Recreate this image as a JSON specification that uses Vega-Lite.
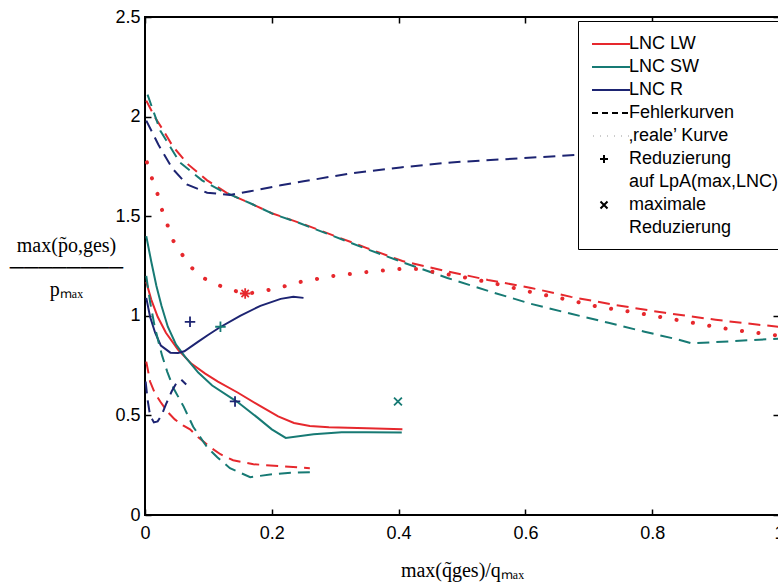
{
  "$schema": "https://vega.github.io/schema/vega-lite/v6.json",
  "width": 634,
  "height": 498,
  "autosize": {"type": "none"},
  "padding": {"left": 145, "top": 17, "right": 0, "bottom": 71},
  "background": "white",
  "config": {
    "view": {"stroke": "black", "strokeWidth": 2},
    "font": "Liberation Sans",
    "axis": {"grid": false, "domain": false, "ticks": true, "tickSize": -6, "tickColor": "black", "tickWidth": 1.5, "labelFontSize": 18, "labelColor": "black", "labelFont": "Liberation Sans", "labelFlush": false, "labelOverlap": false}
  },
  "datasets": {
    "lines": [
      {"curve": "LW", "part": "solid", "x": 0.002, "y": 1.17},
      {"curve": "LW", "part": "solid", "x": 0.01, "y": 1.08},
      {"curve": "LW", "part": "solid", "x": 0.02, "y": 0.995},
      {"curve": "LW", "part": "solid", "x": 0.033, "y": 0.915},
      {"curve": "LW", "part": "solid", "x": 0.052, "y": 0.83},
      {"curve": "LW", "part": "solid", "x": 0.073, "y": 0.76},
      {"curve": "LW", "part": "solid", "x": 0.095, "y": 0.71},
      {"curve": "LW", "part": "solid", "x": 0.115, "y": 0.67},
      {"curve": "LW", "part": "solid", "x": 0.146, "y": 0.615},
      {"curve": "LW", "part": "solid", "x": 0.18, "y": 0.55},
      {"curve": "LW", "part": "solid", "x": 0.21, "y": 0.495},
      {"curve": "LW", "part": "solid", "x": 0.235, "y": 0.462},
      {"curve": "LW", "part": "solid", "x": 0.26, "y": 0.447},
      {"curve": "LW", "part": "solid", "x": 0.29, "y": 0.44},
      {"curve": "LW", "part": "solid", "x": 0.35, "y": 0.435},
      {"curve": "LW", "part": "solid", "x": 0.406, "y": 0.43},

      {"curve": "SW", "part": "solid", "x": 0.002, "y": 1.4},
      {"curve": "SW", "part": "solid", "x": 0.01, "y": 1.27},
      {"curve": "SW", "part": "solid", "x": 0.018, "y": 1.15},
      {"curve": "SW", "part": "solid", "x": 0.026, "y": 1.05},
      {"curve": "SW", "part": "solid", "x": 0.036, "y": 0.945},
      {"curve": "SW", "part": "solid", "x": 0.049, "y": 0.855},
      {"curve": "SW", "part": "solid", "x": 0.063, "y": 0.795},
      {"curve": "SW", "part": "solid", "x": 0.084, "y": 0.715},
      {"curve": "SW", "part": "solid", "x": 0.106, "y": 0.65},
      {"curve": "SW", "part": "solid", "x": 0.146, "y": 0.567},
      {"curve": "SW", "part": "solid", "x": 0.177, "y": 0.49},
      {"curve": "SW", "part": "solid", "x": 0.2, "y": 0.43},
      {"curve": "SW", "part": "solid", "x": 0.222, "y": 0.387},
      {"curve": "SW", "part": "solid", "x": 0.266, "y": 0.405},
      {"curve": "SW", "part": "solid", "x": 0.31, "y": 0.415},
      {"curve": "SW", "part": "solid", "x": 0.35, "y": 0.416},
      {"curve": "SW", "part": "solid", "x": 0.405, "y": 0.414},

      {"curve": "R", "part": "solid", "x": 0.002, "y": 1.09},
      {"curve": "R", "part": "solid", "x": 0.008, "y": 0.995},
      {"curve": "R", "part": "solid", "x": 0.016, "y": 0.915},
      {"curve": "R", "part": "solid", "x": 0.025, "y": 0.85},
      {"curve": "R", "part": "solid", "x": 0.04, "y": 0.815},
      {"curve": "R", "part": "solid", "x": 0.052, "y": 0.813},
      {"curve": "R", "part": "solid", "x": 0.062, "y": 0.822},
      {"curve": "R", "part": "solid", "x": 0.084, "y": 0.87},
      {"curve": "R", "part": "solid", "x": 0.1, "y": 0.905},
      {"curve": "R", "part": "solid", "x": 0.117, "y": 0.94},
      {"curve": "R", "part": "solid", "x": 0.15, "y": 1.0},
      {"curve": "R", "part": "solid", "x": 0.182, "y": 1.05},
      {"curve": "R", "part": "solid", "x": 0.214, "y": 1.085},
      {"curve": "R", "part": "solid", "x": 0.234, "y": 1.095},
      {"curve": "R", "part": "solid", "x": 0.25, "y": 1.09},

      {"curve": "LW", "part": "dashU", "x": 0.002, "y": 2.08},
      {"curve": "LW", "part": "dashU", "x": 0.015, "y": 2.0},
      {"curve": "LW", "part": "dashU", "x": 0.027, "y": 1.94},
      {"curve": "LW", "part": "dashU", "x": 0.044, "y": 1.85},
      {"curve": "LW", "part": "dashU", "x": 0.068, "y": 1.76},
      {"curve": "LW", "part": "dashU", "x": 0.098, "y": 1.68},
      {"curve": "LW", "part": "dashU", "x": 0.13, "y": 1.615},
      {"curve": "LW", "part": "dashU", "x": 0.166, "y": 1.565},
      {"curve": "LW", "part": "dashU", "x": 0.2, "y": 1.515},
      {"curve": "LW", "part": "dashU", "x": 0.25, "y": 1.46},
      {"curve": "LW", "part": "dashU", "x": 0.3, "y": 1.4},
      {"curve": "LW", "part": "dashU", "x": 0.35, "y": 1.34},
      {"curve": "LW", "part": "dashU", "x": 0.406, "y": 1.275},
      {"curve": "LW", "part": "dashU", "x": 0.467, "y": 1.23},
      {"curve": "LW", "part": "dashU", "x": 0.541, "y": 1.18},
      {"curve": "LW", "part": "dashU", "x": 0.609, "y": 1.14},
      {"curve": "LW", "part": "dashU", "x": 0.672, "y": 1.095},
      {"curve": "LW", "part": "dashU", "x": 0.74, "y": 1.055},
      {"curve": "LW", "part": "dashU", "x": 0.82, "y": 1.015},
      {"curve": "LW", "part": "dashU", "x": 0.9, "y": 0.98},
      {"curve": "LW", "part": "dashU", "x": 0.968, "y": 0.955},
      {"curve": "LW", "part": "dashU", "x": 1.0, "y": 0.945},

      {"curve": "SW", "part": "dashU", "x": 0.004, "y": 2.11},
      {"curve": "SW", "part": "dashU", "x": 0.024, "y": 1.93},
      {"curve": "SW", "part": "dashU", "x": 0.055, "y": 1.77},
      {"curve": "SW", "part": "dashU", "x": 0.09, "y": 1.68},
      {"curve": "SW", "part": "dashU", "x": 0.119, "y": 1.63},
      {"curve": "SW", "part": "dashU", "x": 0.166, "y": 1.565},
      {"curve": "SW", "part": "dashU", "x": 0.203, "y": 1.51},
      {"curve": "SW", "part": "dashU", "x": 0.24, "y": 1.47},
      {"curve": "SW", "part": "dashU", "x": 0.297, "y": 1.4},
      {"curve": "SW", "part": "dashU", "x": 0.35, "y": 1.335},
      {"curve": "SW", "part": "dashU", "x": 0.414, "y": 1.26},
      {"curve": "SW", "part": "dashU", "x": 0.477, "y": 1.19},
      {"curve": "SW", "part": "dashU", "x": 0.546, "y": 1.12},
      {"curve": "SW", "part": "dashU", "x": 0.609, "y": 1.06},
      {"curve": "SW", "part": "dashU", "x": 0.672, "y": 1.01},
      {"curve": "SW", "part": "dashU", "x": 0.731, "y": 0.965},
      {"curve": "SW", "part": "dashU", "x": 0.788, "y": 0.92},
      {"curve": "SW", "part": "dashU", "x": 0.842, "y": 0.88},
      {"curve": "SW", "part": "dashU", "x": 0.862, "y": 0.862},
      {"curve": "SW", "part": "dashU", "x": 0.9, "y": 0.868},
      {"curve": "SW", "part": "dashU", "x": 0.957, "y": 0.878},
      {"curve": "SW", "part": "dashU", "x": 1.0, "y": 0.885},

      {"curve": "R", "part": "dashU", "x": 0.002, "y": 1.98},
      {"curve": "R", "part": "dashU", "x": 0.021, "y": 1.86},
      {"curve": "R", "part": "dashU", "x": 0.043, "y": 1.74},
      {"curve": "R", "part": "dashU", "x": 0.066, "y": 1.66},
      {"curve": "R", "part": "dashU", "x": 0.098, "y": 1.618},
      {"curve": "R", "part": "dashU", "x": 0.134, "y": 1.607},
      {"curve": "R", "part": "dashU", "x": 0.166, "y": 1.625},
      {"curve": "R", "part": "dashU", "x": 0.214, "y": 1.655},
      {"curve": "R", "part": "dashU", "x": 0.25, "y": 1.675},
      {"curve": "R", "part": "dashU", "x": 0.324, "y": 1.715},
      {"curve": "R", "part": "dashU", "x": 0.403, "y": 1.745},
      {"curve": "R", "part": "dashU", "x": 0.483, "y": 1.77},
      {"curve": "R", "part": "dashU", "x": 0.562, "y": 1.785},
      {"curve": "R", "part": "dashU", "x": 0.641, "y": 1.8},
      {"curve": "R", "part": "dashU", "x": 0.69, "y": 1.81},

      {"curve": "LW", "part": "dashL", "x": 0.002, "y": 0.77},
      {"curve": "LW", "part": "dashL", "x": 0.008, "y": 0.67},
      {"curve": "LW", "part": "dashL", "x": 0.015, "y": 0.615},
      {"curve": "LW", "part": "dashL", "x": 0.024, "y": 0.57},
      {"curve": "LW", "part": "dashL", "x": 0.035, "y": 0.52},
      {"curve": "LW", "part": "dashL", "x": 0.047, "y": 0.48},
      {"curve": "LW", "part": "dashL", "x": 0.06, "y": 0.45},
      {"curve": "LW", "part": "dashL", "x": 0.071, "y": 0.43},
      {"curve": "LW", "part": "dashL", "x": 0.084, "y": 0.39},
      {"curve": "LW", "part": "dashL", "x": 0.103, "y": 0.34},
      {"curve": "LW", "part": "dashL", "x": 0.119, "y": 0.305},
      {"curve": "LW", "part": "dashL", "x": 0.139, "y": 0.275},
      {"curve": "LW", "part": "dashL", "x": 0.171, "y": 0.255},
      {"curve": "LW", "part": "dashL", "x": 0.214, "y": 0.245},
      {"curve": "LW", "part": "dashL", "x": 0.26, "y": 0.235},

      {"curve": "SW", "part": "dashL", "x": 0.002, "y": 1.2},
      {"curve": "SW", "part": "dashL", "x": 0.008, "y": 1.07},
      {"curve": "SW", "part": "dashL", "x": 0.015, "y": 0.95},
      {"curve": "SW", "part": "dashL", "x": 0.022, "y": 0.86},
      {"curve": "SW", "part": "dashL", "x": 0.027, "y": 0.8},
      {"curve": "SW", "part": "dashL", "x": 0.035, "y": 0.72},
      {"curve": "SW", "part": "dashL", "x": 0.045, "y": 0.636},
      {"curve": "SW", "part": "dashL", "x": 0.061, "y": 0.544},
      {"curve": "SW", "part": "dashL", "x": 0.076, "y": 0.443},
      {"curve": "SW", "part": "dashL", "x": 0.098, "y": 0.34},
      {"curve": "SW", "part": "dashL", "x": 0.114, "y": 0.29},
      {"curve": "SW", "part": "dashL", "x": 0.134, "y": 0.235},
      {"curve": "SW", "part": "dashL", "x": 0.166, "y": 0.19},
      {"curve": "SW", "part": "dashL", "x": 0.202, "y": 0.205},
      {"curve": "SW", "part": "dashL", "x": 0.23, "y": 0.212},
      {"curve": "SW", "part": "dashL", "x": 0.26, "y": 0.215},

      {"curve": "R", "part": "dashL", "x": 0.001, "y": 0.67},
      {"curve": "R", "part": "dashL", "x": 0.004, "y": 0.58},
      {"curve": "R", "part": "dashL", "x": 0.008, "y": 0.5},
      {"curve": "R", "part": "dashL", "x": 0.014, "y": 0.465},
      {"curve": "R", "part": "dashL", "x": 0.02, "y": 0.47},
      {"curve": "R", "part": "dashL", "x": 0.026, "y": 0.5},
      {"curve": "R", "part": "dashL", "x": 0.033, "y": 0.555},
      {"curve": "R", "part": "dashL", "x": 0.042, "y": 0.62},
      {"curve": "R", "part": "dashL", "x": 0.05, "y": 0.665},
      {"curve": "R", "part": "dashL", "x": 0.057, "y": 0.68},
      {"curve": "R", "part": "dashL", "x": 0.065, "y": 0.655},

      {"curve": "LW", "part": "dot", "x": 0.003, "y": 1.77},
      {"curve": "LW", "part": "dot", "x": 0.011, "y": 1.69},
      {"curve": "LW", "part": "dot", "x": 0.019, "y": 1.62},
      {"curve": "LW", "part": "dot", "x": 0.027, "y": 1.53},
      {"curve": "LW", "part": "dot", "x": 0.035, "y": 1.46},
      {"curve": "LW", "part": "dot", "x": 0.044, "y": 1.38},
      {"curve": "LW", "part": "dot", "x": 0.058, "y": 1.31},
      {"curve": "LW", "part": "dot", "x": 0.074, "y": 1.24},
      {"curve": "LW", "part": "dot", "x": 0.092, "y": 1.19},
      {"curve": "LW", "part": "dot", "x": 0.119, "y": 1.15},
      {"curve": "LW", "part": "dot", "x": 0.142, "y": 1.125},
      {"curve": "LW", "part": "dot", "x": 0.158, "y": 1.112},
      {"curve": "LW", "part": "dot", "x": 0.169, "y": 1.115},
      {"curve": "LW", "part": "dot", "x": 0.195, "y": 1.13},
      {"curve": "LW", "part": "dot", "x": 0.222, "y": 1.15},
      {"curve": "LW", "part": "dot", "x": 0.245, "y": 1.17},
      {"curve": "LW", "part": "dot", "x": 0.297, "y": 1.2},
      {"curve": "LW", "part": "dot", "x": 0.351, "y": 1.22},
      {"curve": "LW", "part": "dot", "x": 0.403, "y": 1.235},
      {"curve": "LW", "part": "dot", "x": 0.43, "y": 1.235},
      {"curve": "LW", "part": "dot", "x": 0.456, "y": 1.22},
      {"curve": "LW", "part": "dot", "x": 0.509, "y": 1.19},
      {"curve": "LW", "part": "dot", "x": 0.562, "y": 1.155},
      {"curve": "LW", "part": "dot", "x": 0.614, "y": 1.115},
      {"curve": "LW", "part": "dot", "x": 0.668, "y": 1.08},
      {"curve": "LW", "part": "dot", "x": 0.715, "y": 1.045},
      {"curve": "LW", "part": "dot", "x": 0.767, "y": 1.02},
      {"curve": "LW", "part": "dot", "x": 0.82, "y": 0.99},
      {"curve": "LW", "part": "dot", "x": 0.873, "y": 0.96},
      {"curve": "LW", "part": "dot", "x": 0.926, "y": 0.93},
      {"curve": "LW", "part": "dot", "x": 0.976, "y": 0.91},
      {"curve": "LW", "part": "dot", "x": 1.0, "y": 0.9}
    ],
    "marks": [
      {"sym": "plusR", "x": 0.071, "y": 0.97},
      {"sym": "plusSW", "x": 0.119, "y": 0.945},
      {"sym": "plusR", "x": 0.142, "y": 0.57},
      {"sym": "xSW", "x": 0.399, "y": 0.57},
      {"sym": "star", "x": 0.158, "y": 1.112}
    ]
  },
  "layer": [
    {
      "data": {"name": "lines"},
      "transform": [{"filter": "datum.part == 'solid'"}],
      "mark": {"type": "line", "strokeWidth": 2, "clip": true},
      "encoding": {
        "x": {"field": "x", "type": "quantitative", "scale": {"domain": [0, 1], "nice": false},
          "axis": {"orient": "bottom", "values": [0, 0.2, 0.4, 0.6, 0.8, 1], "format": ".1~f", "labelPadding": 15,
            "title": "max(q̃ges)/qₘₐₓ", "titleFont": "Liberation Serif", "titleFontSize": 20, "titleFontWeight": "normal", "titleColor": "black", "titleY": 55, "titleBaseline": "middle"}},
        "y": {"field": "y", "type": "quantitative", "scale": {"domain": [0, 2.5], "nice": false},
          "axis": {"orient": "left", "values": [0, 0.5, 1, 1.5, 2, 2.5], "format": ".1~f", "labelPadding": 11,
            "title": ["max(p̃o,ges)", "────────", "pₘₐₓ"], "titleAngle": 0, "titleAlign": "center", "titleBaseline": "middle", "titleX": -79, "titleY": 228, "titleLineHeight": 22,
            "titleFont": "Liberation Serif", "titleFontSize": 20, "titleFontWeight": "normal", "titleColor": "black"}},
        "color": {"field": "curve", "type": "nominal", "scale": {"domain": ["LW", "SW", "R"], "range": ["#e6282d", "#177a74", "#1d2472"]}, "legend": null}
      }
    },
    {
      "data": {"name": "lines"},
      "transform": [{"filter": "datum.part == 'dashU' || datum.part == 'dashL'"}],
      "mark": {"type": "line", "strokeWidth": 2, "strokeDash": [12, 7], "clip": true},
      "encoding": {
        "x": {"field": "x", "type": "quantitative", "axis": {"orient": "top", "values": [0, 0.2, 0.4, 0.6, 0.8, 1], "labels": false, "title": null}},
        "y": {"field": "y", "type": "quantitative", "axis": {"orient": "right", "values": [0, 0.5, 1, 1.5, 2, 2.5], "labels": false, "title": null}},
        "color": {"field": "curve", "type": "nominal", "legend": null},
        "detail": {"field": "part"}
      }
    },
    {
      "data": {"name": "lines"},
      "transform": [{"filter": "datum.part == 'dot'"}],
      "mark": {"type": "line", "strokeWidth": 4, "strokeDash": [0.1, 16.5], "strokeCap": "round", "clip": true},
      "encoding": {
        "x": {"field": "x", "type": "quantitative", "axis": null},
        "y": {"field": "y", "type": "quantitative", "axis": null},
        "color": {"field": "curve", "type": "nominal", "legend": null}
      }
    },
    {
      "data": {"name": "marks"},
      "mark": {"type": "point", "filled": false, "strokeWidth": 1.8, "size": 110, "opacity": 1},
      "encoding": {
        "x": {"field": "x", "type": "quantitative", "axis": null},
        "y": {"field": "y", "type": "quantitative", "axis": null},
        "stroke": {"field": "sym", "type": "nominal",
          "scale": {
            "domain": ["LW", "SW", "R", "dash", "dot", "plusL", "auf", "xL", "red2", "plusR", "plusSW", "xSW", "star"],
            "range": ["#e6282d", "#177a74", "#1d2472", "black", "black", "black", "white", "black", "white", "#1d2472", "#177a74", "#177a74", "#e6282d"]
          },
          "legend": {
            "orient": "none", "legendX": 433, "legendY": 4, "title": null,
            "values": ["LW", "SW", "R", "dash", "dot", "plusL", "auf", "xL", "red2"],
            "labelExpr": "datum.value=='LW'?'LNC LW':datum.value=='SW'?'LNC SW':datum.value=='R'?'LNC R':datum.value=='dash'?'Fehlerkurven':datum.value=='dot'?'‚reale’ Kurve':datum.value=='plusL'?'Reduzierung':datum.value=='auf'?'auf LpA(max,LNC)':datum.value=='xL'?'maximale':'Reduzierung'",
            "labelFont": "Liberation Sans", "labelFontSize": 18, "labelColor": "black", "labelLimit": 400,
            "symbolSize": 400, "symbolOffset": 10, "labelOffset": 7, "rowPadding": 3, "padding": 12,
            "symbolStrokeWidth": 2, "symbolFillColor": "transparent",
            "strokeColor": "black", "fillColor": "white", "zindex": 1,
            "encode": {
              "symbols": {"update": {"strokeCap": {"value": "round"}, "size": {"value": 400}, "opacity": {"value": 1}, "strokeWidth": {"value": 2}}},
              "legend": {"update": {"strokeWidth": {"value": 2}}}
            }
          }
        },
        "shape": {"field": "sym", "type": "nominal",
          "scale": {
            "domain": ["LW", "SW", "R", "dash", "dot", "plusL", "auf", "xL", "red2", "plusR", "plusSW", "xSW", "star"],
            "range": [
              "M-1.9,0H1.9", "M-1.9,0H1.9", "M-1.9,0H1.9",
              "M-1.9,0H-1.3M-0.9,0H-0.3M0.1,0H0.7M1.1,0H1.7",
              "M-1.8,0H-1.78M-1.1,0H-1.08M-0.4,0H-0.38M0.3,0H0.32M1.0,0H1.02M1.7,0H1.72",
              "M-1.1,0H-0.3M-0.7,-0.4V0.4",
              "M0,0",
              "M-1.05,-0.35L-0.35,0.35M-1.05,0.35L-0.35,-0.35",
              "M0,0",
              "M-1,0H1M0,-1V1",
              "M-1,0H1M0,-1V1",
              "M-0.75,-0.75L0.75,0.75M-0.75,0.75L0.75,-0.75",
              "M-1,0H1M0,-1V1M-0.7,-0.7L0.7,0.7M-0.7,0.7L0.7,-0.7"
            ]
          },
          "legend": {
            "orient": "none", "legendX": 433, "legendY": 4, "title": null,
            "values": ["LW", "SW", "R", "dash", "dot", "plusL", "auf", "xL", "red2"],
            "labelExpr": "datum.value=='LW'?'LNC LW':datum.value=='SW'?'LNC SW':datum.value=='R'?'LNC R':datum.value=='dash'?'Fehlerkurven':datum.value=='dot'?'‚reale’ Kurve':datum.value=='plusL'?'Reduzierung':datum.value=='auf'?'auf LpA(max,LNC)':datum.value=='xL'?'maximale':'Reduzierung'",
            "labelFont": "Liberation Sans", "labelFontSize": 18, "labelColor": "black", "labelLimit": 400,
            "symbolSize": 400, "symbolOffset": 10, "labelOffset": 7, "rowPadding": 3, "padding": 12,
            "symbolStrokeWidth": 2, "symbolFillColor": "transparent",
            "strokeColor": "black", "fillColor": "white", "zindex": 1,
            "encode": {
              "symbols": {"update": {"strokeCap": {"value": "round"}, "size": {"value": 400}, "opacity": {"value": 1}, "strokeWidth": {"value": 2}}},
              "legend": {"update": {"strokeWidth": {"value": 2}}}
            }
          }
        }
      }
    }
  ],
  "resolve": {"axis": {"x": "independent", "y": "independent"}}
}
